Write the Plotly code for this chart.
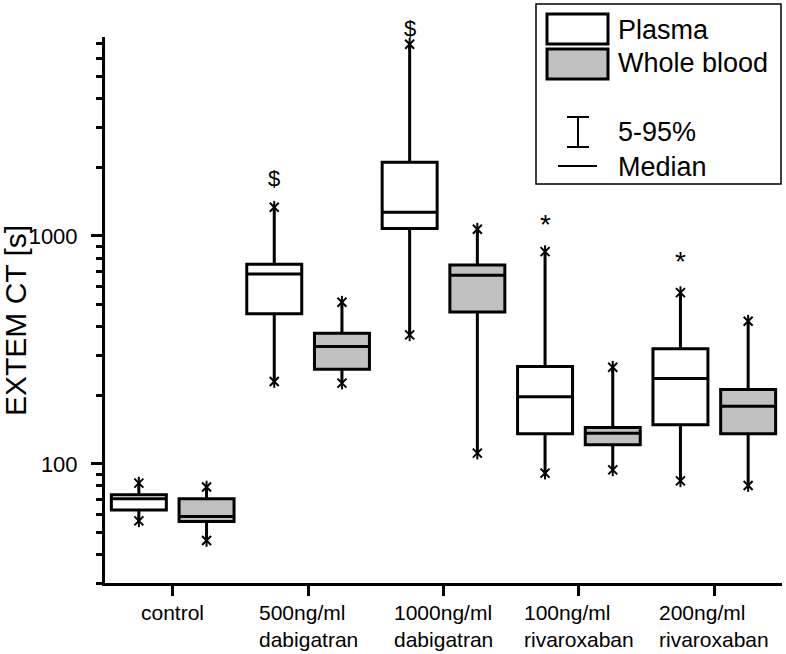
import math
import plotly.graph_objects as go

# ---------------- data ----------------
categories = ["control", "500ng/ml<br>dabigatran", "1000ng/ml<br>dabigatran",
              "100ng/ml<br>rivaroxaban", "200ng/ml<br>rivaroxaban"]

plasma_p5 = [56.2, 229.7, 368, 91.0, 84.2]
plasma_q1 = [62.8, 455, 1077, 135.4, 148.3]
plasma_median = [70.2, 681, 1270, 197, 236.6]
plasma_q3 = [73.1, 751, 2104, 267, 320]
plasma_p95 = [82.3, 1336, 6935, 853, 564]

blood_p5 = [46.1, 226, 111.4, 94.1, 80.3]
blood_q1 = [55.8, 260, 464, 121.2, 135.4]
blood_median = [58.8, 327, 672, 136.3, 179.1]
blood_q3 = [70.2, 374, 746, 144.2, 211.8]
blood_p95 = [79.1, 512, 1070, 265.5, 422.6]

sig_labels = ["", "$", "$", "*", "*"]
sig_y = [None, 1778, 8150, 1121, 774]

y_tickvals = [100, 1000]
y_ticktext = ["100", "1000"]
y_min, y_max = 30, 7460
y_title = "EXTEM CT [s]"

legend_labels = ["Plasma", "Whole blood", "5-95%", "Median"]

# ---------------- styling ----------------
FONT = "Arial, Liberation Sans, sans-serif"
W, H = 786, 654
ML, MR, MT, MB = 105, 4, 37, 71
PW, PH = W - ML - MR, H - MT - MB
GRAY = "#c0c0c0"
GROUP_OFFSET_PX = -0.25 * PW / len(categories)   # plasma box offset within a category
LOG_MIN, LOG_MAX = math.log10(y_min), math.log10(y_max)


def px(x):
    return (x - ML) / PW


def py(y):
    return (H - MB - y) / PH


def val_to_paper(v):
    return (math.log10(v) - LOG_MIN) / (LOG_MAX - LOG_MIN)


fig = go.Figure()

fig.add_trace(go.Box(
    name="Plasma", x=categories, q1=plasma_q1, median=plasma_median, q3=plasma_q3,
    lowerfence=plasma_p5, upperfence=plasma_p95, fillcolor="white",
    line=dict(color="black", width=3), whiskerwidth=0, offsetgroup="p",
    boxpoints=False, showlegend=False))
fig.add_trace(go.Box(
    name="Whole blood", x=categories, q1=blood_q1, median=blood_median, q3=blood_q3,
    lowerfence=blood_p5, upperfence=blood_p95, fillcolor=GRAY,
    line=dict(color="black", width=3), whiskerwidth=0, offsetgroup="w",
    boxpoints=False, showlegend=False))

for grp, lo, hi in (("p", plasma_p5, plasma_p95), ("w", blood_p5, blood_p95)):
    for sym in ("x-thin-open", "line-ns-open"):
        fig.add_trace(go.Scatter(
            x=categories + categories, y=lo + hi, mode="markers", offsetgroup=grp,
            marker=dict(symbol=sym, size=9, color="black",
                        line=dict(color="black", width=2)),
            showlegend=False, hoverinfo="skip", cliponaxis=False))

annotations = []

# significance marks above the plasma boxes
for c, s, v in zip(categories, sig_labels, sig_y):
    if not s:
        continue
    annotations.append(dict(
        x=c, xref="x", y=val_to_paper(v), yref="paper", text=s, showarrow=False,
        xshift=GROUP_OFFSET_PX, xanchor="center", yanchor="middle",
        font=dict(family=FONT, size=22 if s == "$" else 28, color="black")))

# x category labels (left-aligned lines, block centred on tick)
for c in categories:
    annotations.append(dict(
        x=c, xref="x", y=py(599), yref="paper", text=c, showarrow=False,
        xanchor="center", yanchor="top", align="left",
        font=dict(family=FONT, size=21, color="black")))

# y-axis title
annotations.append(dict(
    x=px(16), xref="paper", y=py(321), yref="paper", text=y_title,
    textangle=-90, showarrow=False, xanchor="center", yanchor="middle",
    font=dict(family=FONT, size=30, color="black")))

# legend drawn manually
shapes = [
    dict(type="rect", xref="paper", yref="paper", x0=px(536), x1=px(781),
         y0=py(4), y1=py(184), line=dict(color="black", width=1.5),
         fillcolor="white", layer="above"),
    dict(type="rect", xref="paper", yref="paper", x0=px(547), x1=px(608),
         y0=py(14), y1=py(44), line=dict(color="black", width=3),
         fillcolor="white", layer="above"),
    dict(type="rect", xref="paper", yref="paper", x0=px(547), x1=px(608),
         y0=py(49), y1=py(79), line=dict(color="black", width=3),
         fillcolor=GRAY, layer="above"),
    dict(type="line", xref="paper", yref="paper", x0=px(578), x1=px(578),
         y0=py(117), y1=py(147), line=dict(color="black", width=2), layer="above"),
    dict(type="line", xref="paper", yref="paper", x0=px(567), x1=px(589),
         y0=py(117), y1=py(117), line=dict(color="black", width=2), layer="above"),
    dict(type="line", xref="paper", yref="paper", x0=px(567), x1=px(589),
         y0=py(147), y1=py(147), line=dict(color="black", width=2), layer="above"),
    dict(type="line", xref="paper", yref="paper", x0=px(558), x1=px(597),
         y0=py(166), y1=py(166), line=dict(color="black", width=2), layer="above"),
]
for lab, yy in zip(legend_labels, (30, 63, 132, 167)):
    annotations.append(dict(
        x=px(616), xref="paper", y=py(yy), yref="paper", text=lab,
        showarrow=False, xanchor="left", yanchor="middle",
        font=dict(family=FONT, size=27, color="black")))

fig.update_layout(
    width=W, height=H,
    margin=dict(l=ML, r=MR, t=MT, b=MB, autoexpand=False),
    paper_bgcolor="white", plot_bgcolor="white",
    boxmode="group", boxgap=0, boxgroupgap=0.188,
    scattermode="group", scattergap=0,
    showlegend=False,
    font=dict(family=FONT, color="black"),
    shapes=shapes, annotations=annotations,
    xaxis=dict(type="category", categoryorder="array", categoryarray=categories,
               range=[-0.5, 4.5], showline=True, linecolor="black", linewidth=3,
               ticks="outside", ticklen=10, tickwidth=3, tickcolor="black",
               showticklabels=False, showgrid=False, zeroline=False),
    yaxis=dict(type="log", range=[LOG_MIN, LOG_MAX],
               showline=True, linecolor="black", linewidth=3,
               ticks="outside", ticklen=11, tickwidth=3, tickcolor="black",
               tickvals=y_tickvals, ticktext=y_ticktext, ticklabelstandoff=9,
               tickfont=dict(family=FONT, size=22, color="black"),
               minor=dict(ticks="outside", ticklen=6, tickwidth=3,
                          tickcolor="black", dtick="D1", showgrid=False),
               showgrid=False, zeroline=False),
)

fig.write_html(
    "out.html",
    config={"displayModeBar": False},
    post_script="document.body.style.margin='0';document.body.style.overflow='hidden';",
)
